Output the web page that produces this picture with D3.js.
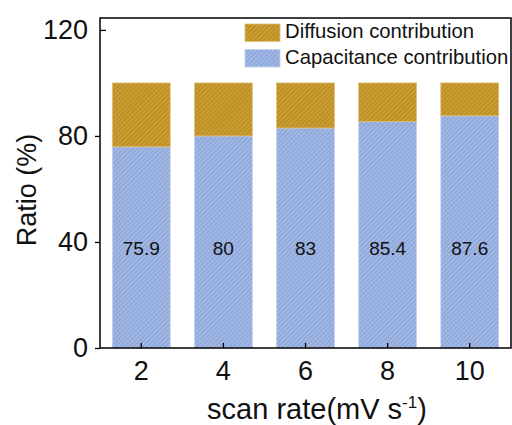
<!DOCTYPE html>
<html><head><meta charset="utf-8">
<script src="https://cdn.jsdelivr.net/npm/d3@7"></script>
<style>body{margin:0;background:#fff;} svg{display:block;font-family:"Liberation Sans",Arial,sans-serif;}</style>
</head><body>
<script>
const categories = ["2","4","6","8","10"];
const capacitance = [75.9, 80, 83, 85.4, 87.6];
const diffusion = [24.1, 20, 17, 14.6, 12.4];
const yTicks = [0, 40, 80, 120];
const seriesNames = ["Diffusion contribution", "Capacitance contribution"];

(function(){
const W = 512, H = 425;
const svg = d3.select("body").append("svg").attr("width", W).attr("height", H);
const defs = svg.append("defs");
function hatch(id, base, line){
  const p = defs.append("pattern").attr("id", id).attr("patternUnits","userSpaceOnUse")
    .attr("width", 3.2).attr("height", 3.2).attr("patternTransform","rotate(45)");
  p.append("rect").attr("width",3.2).attr("height",3.2).attr("fill",base);
  p.append("line").attr("x1",0).attr("y1",0).attr("x2",0).attr("y2",3.2)
    .attr("stroke",line).attr("stroke-width",1.1);
}
hatch("hCap", "#a0b7e4", "#7690ca");
hatch("hDif", "#cb9c30", "#a27818");

const mL = 100, mR = 511, mT = 18, mB = 348;
const x = d3.scaleBand().domain(categories).range([mL, mR]).paddingInner(0.295).paddingOuter(0.15);
const y = d3.scaleLinear().domain([0, 124.5]).range([mB, mT]);

const rows = categories.map((c, i) => ({c, cap: capacitance[i], dif: diffusion[i]}));
const stack = d3.stack().keys(["cap","dif"])(rows);
const fills = {cap: "url(#hCap)", dif: "url(#hDif)"};
const edges = {cap: "#c4d2ee", dif: "#dcc07a"};
stack.forEach(s => {
  svg.append("g").selectAll("rect").data(s).join("rect")
    .attr("x", d => x(d.data.c))
    .attr("width", x.bandwidth())
    .attr("y", d => y(d[1]))
    .attr("height", d => y(d[0]) - y(d[1]))
    .attr("fill", fills[s.key])
    .attr("stroke", edges[s.key]).attr("stroke-width", 0.8);
});

svg.append("g").selectAll("text").data(rows).join("text")
  .attr("x", d => x(d.c) + x.bandwidth()/2)
  .attr("y", y(37))
  .attr("text-anchor","middle").attr("dominant-baseline","middle")
  .attr("font-size", 19).attr("fill","#111")
  .text(d => d.cap);

svg.append("rect").attr("x", mL).attr("y", mT).attr("width", mR-mL).attr("height", mB-mT)
  .attr("fill","none").attr("stroke","#000").attr("stroke-width",1.5);

const yAx = svg.append("g").attr("transform", `translate(${mL},0)`)
  .call(d3.axisLeft(y).tickValues(yTicks).tickSize(5).tickPadding(7));
yAx.select(".domain").remove();
yAx.selectAll("text").attr("font-size", 27).attr("fill","#111").attr("font-family","Liberation Sans, Arial, sans-serif");
yAx.selectAll("line").attr("stroke","#000").attr("stroke-width",1.3);
yAx.selectAll(".tick").filter(d => d === 120).select("line").attr("x2", 6);

const xAx = svg.append("g").attr("transform", `translate(0,${mB})`)
  .call(d3.axisBottom(x).tickSize(-5).tickPadding(13));
xAx.select(".domain").remove();
xAx.selectAll("text").attr("font-size", 27).attr("fill","#111").attr("font-family","Liberation Sans, Arial, sans-serif");
xAx.selectAll("line").attr("stroke","#000").attr("stroke-width",1.3);

svg.append("text").attr("transform", "translate(36,190) rotate(-90)")
  .attr("text-anchor","middle").attr("font-size", 27).attr("fill","#111").text("Ratio (%)");
const xt = svg.append("text").attr("x", 317).attr("y", 419).attr("text-anchor","middle")
  .attr("font-size", 29).attr("fill","#111");
xt.append("tspan").text("scan rate(mV  s");
xt.append("tspan").attr("dy", -11).attr("font-size", 17).text("-1");
xt.append("tspan").attr("dy", 11).text(")");

const leg = svg.append("g");
const legFills = ["url(#hDif)", "url(#hCap)"];
const legEdges = ["#dcc07a", "#c4d2ee"];
seriesNames.forEach((n, i) => {
  const yy = 24 + i * 25.5;
  leg.append("rect").attr("x", 245).attr("y", yy).attr("width", 35).attr("height", 17.5)
    .attr("fill", legFills[i]).attr("stroke", legEdges[i]).attr("stroke-width", 0.8);
  leg.append("text").attr("x", 285).attr("y", yy + 9).attr("dominant-baseline","middle")
    .attr("font-size", 20.3).attr("fill","#111").text(n);
});
})();
</script>
</body></html>
